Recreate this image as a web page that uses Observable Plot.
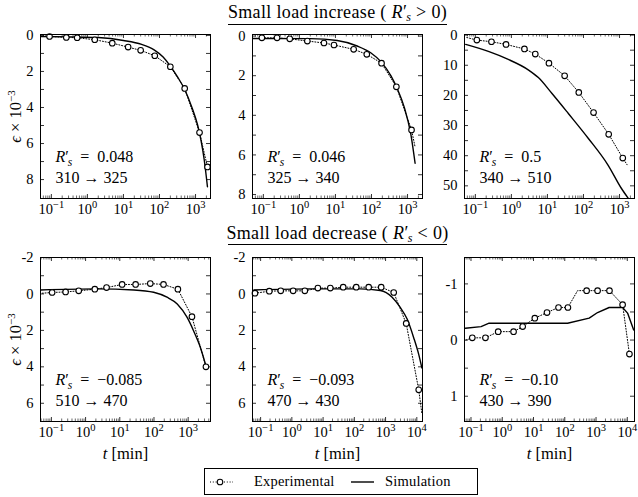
<!DOCTYPE html>
<html><head><meta charset="utf-8">
<script src="https://cdn.jsdelivr.net/npm/d3@7"></script>
<script src="https://cdn.jsdelivr.net/npm/@observablehq/plot@0.6"></script>
<style>
body{margin:0;background:#fff;}
#wrap{position:relative;width:638px;height:497px;font-family:"Liberation Serif","Times New Roman",serif;color:#000;overflow:hidden;}
.pl{position:absolute;}
.title{position:absolute;left:337.5px;transform:translateX(-50%);font-size:18px;line-height:18px;letter-spacing:0.35px;white-space:nowrap;}
.title sub{font-size:12px;font-style:italic;vertical-align:-3px;line-height:0;margin-left:-1px;}
.uline{position:absolute;left:228px;width:219px;border-top:1px solid #000;height:0;}
#legend{position:absolute;left:204px;top:468px;width:272px;height:25px;border:1px solid #000;font-size:14.5px;letter-spacing:0.2px;}
#legend span{position:absolute;top:4px;white-space:nowrap;}
</style></head><body><div id="wrap"></div>
<script>
// ---------- data (t in min, strain eps x 1e-3) ----------
const titles = ["Small load increase", "Small load decrease"];
const annotR = ["0.048", "0.046", "0.5", "\u22120.085", "\u22120.093", "\u22120.10"];
const annotLoad = ["310 \u2192 325", "325 \u2192 340", "340 \u2192 510", "510 \u2192 470", "470 \u2192 430", "430 \u2192 390"];

const xTicksTop = [0.1, 1, 10, 100, 1000];
const xTicksP4 = [0.1, 1, 10, 100, 1000];
const xTicksP56 = [0.1, 1, 10, 100, 1000, 10000];

const p1YLabels = [0, 2, 4, 6, 8];          const p1YTicks = [0,1,2,3,4,5,6,7,8];
const p2YLabels = [0, 2, 4, 6, 8];          const p2YTicks = [0,1,2,3,4,5,6,7,8];
const p3YLabels = [0, 10, 20, 30, 40, 50];  const p3YTicks = [0,5,10,15,20,25,30,35,40,45,50];
const p4YLabels = [-2, 0, 2, 4, 6];         const p4YTicks = [-2,-1,0,1,2,3,4,5,6];
const p5YLabels = [-2, 0, 2, 4, 6];         const p5YTicks = [-2,-1,0,1,2,3,4,5,6];
const p6YLabels = [-1, 0, 1];               const p6YTicks = [-1,-0.5,0,0.5,1];

// Panel 1: 310 -> 325
const p1ExpT = [0.089, 0.26, 0.52, 1.6, 4.9, 13.5, 30, 74, 200, 500, 1290, 2140];
const p1ExpE = [0.06, 0.11, 0.13, 0.24, 0.43, 0.65, 0.83, 1.13, 1.74, 2.94, 5.39, 7.30];
const p1ExpMark = [1,1,1,1,1,1,1,1,1,1,1,1];
const p1SimT = [0.05, 0.32, 2, 10, 32, 71, 126, 200, 316, 500, 794, 1150, 1410, 1740, 2140];
const p1SimE = [0.06, 0.08, 0.12, 0.28, 0.5, 0.8, 1.2, 1.7, 2.3, 3.0, 4.0, 5.0, 5.8, 6.9, 8.4];

// Panel 2: 325 -> 340
const p2ExpT = [0.091, 0.24, 0.54, 1.66, 4.8, 9.1, 32, 74, 190, 490, 1290, 1620];
const p2ExpE = [0.09, 0.09, 0.14, 0.25, 0.35, 0.45, 0.67, 0.92, 1.37, 2.56, 4.74, 5.6];
const p2ExpMark = [1,1,1,1,1,1,1,1,1,1,1,0];
const p2SimT = [0.05, 2.0, 11.2, 40, 95, 182, 347, 525, 813, 1230, 1620];
const p2SimE = [0.12, 0.13, 0.22, 0.50, 0.84, 1.29, 2.01, 2.68, 3.60, 4.94, 6.42];

// Panel 3: 340 -> 510
const p3ExpT = [0.058, 0.11, 0.28, 0.71, 2.3, 4.6, 11, 30, 74, 190, 500, 1230, 1620];
const p3ExpE = [0.8, 1.66, 2.2, 3.1, 4.6, 6.3, 9.3, 13.5, 19.0, 25.7, 32.9, 40.8, 43.0];
const p3ExpMark = [0,1,1,1,1,1,1,1,1,1,1,1,0];
const p3SimT = [0.054, 0.24, 0.76, 3.0, 5.6, 13.2, 38, 135, 479, 1120, 1780];
const p3SimE = [3.1, 5.5, 7.9, 11.6, 14.1, 19.3, 26.0, 34.2, 43.1, 50.8, 54.3];

// Panel 4: 510 -> 470
const p4ExpT = [0.054, 0.105, 0.26, 0.63, 1.86, 4.1, 11.7, 29, 78, 190, 500, 1290, 3310];
const p4ExpE = [-0.04, -0.08, -0.11, -0.17, -0.26, -0.35, -0.52, -0.52, -0.57, -0.52, -0.26, 1.25, 4.0];
const p4ExpMark = [0,1,1,1,1,1,1,1,1,1,1,1,1];
const p4SimT = [0.048, 2.1, 26, 98, 240, 479, 933, 1445, 2290, 3310];
const p4SimE = [-0.22, -0.28, -0.22, -0.09, 0.18, 0.55, 1.29, 2.03, 2.95, 3.95];

// Panel 5: 470 -> 430
const p5ExpT = [0.066, 0.19, 0.44, 1.1, 2.6, 6.8, 17, 44, 115, 288, 724, 1820, 4570, 11500, 14500];
const p5ExpE = [-0.04, -0.15, -0.17, -0.17, -0.17, -0.32, -0.32, -0.37, -0.37, -0.37, -0.37, -0.08, 1.62, 5.26, 6.55];
const p5ExpMark = [1,1,1,1,1,1,1,1,1,1,1,1,1,1,0];
const p5SimT = [0.061, 4.0, 155, 676, 1620, 2950, 4900, 7940, 11500, 14500];
const p5SimE = [-0.22, -0.28, -0.28, -0.19, 0.18, 0.74, 1.38, 2.40, 3.32, 4.06];

// Panel 6: 430 -> 390
const p6ExpT = [0.069, 0.11, 0.29, 0.74, 2.3, 4.5, 11, 27, 63, 126, 257, 500, 1120, 2690, 7080, 11700];
const p6ExpE = [0.0, -0.04, -0.04, -0.15, -0.15, -0.24, -0.39, -0.49, -0.58, -0.58, -0.88, -0.88, -0.88, -0.88, -0.63, 0.25];
const p6ExpMark = [0,1,1,1,1,1,1,1,1,1,0,1,1,1,1,1];
const p6SimT = [0.066, 0.21, 0.38, 123, 603, 1120, 2630, 7080, 10200, 16000];
const p6SimE = [-0.21, -0.24, -0.30, -0.30, -0.39, -0.49, -0.58, -0.58, -0.48, -0.18];

// ---------- drawing ----------
const FONT = '"Liberation Serif","Times New Roman",serif';
const W = 170, H = 164, ML = 40, MR = 4, MT = 4;

function richText(svg) {
  svg.querySelectorAll("text").forEach(t => {
    const s = t.textContent;
    let m;
    if ((m = s.match(/^10\^(-?\d)$/))) {
      t.innerHTML = `10<tspan dy="-6" font-size="10.5">${m[1].replace("-", "\u2212")}</tspan>`;
    } else if ((m = s.match(/^R'_s = (.*)$/))) {
      t.innerHTML = `<tspan font-style="italic">R</tspan>\u2032<tspan font-style="italic" font-size="11.5" dy="4" dx="-1">s</tspan><tspan dy="-4">\u2002=\u2002${m[1]}</tspan>`;
    } else if (s === "EPSLABEL") {
      t.innerHTML = `<tspan font-style="italic">\u03f5</tspan> \u00d7 10<tspan dy="-6" font-size="11">\u22123</tspan>`;
    } else if (s === "TLABEL") {
      t.innerHTML = `<tspan font-style="italic">t</tspan> [min]`;
    }
  });
}

function panel(cfg) {
  const {xDomain, yDomain, xMajors, yTicks, yLabels, expT, expE, expMark, simT, simE, curve, idx, left, top, yLabel, xLabel} = cfg;
  const MB = xLabel ? 46 : 26;
  const exp = expT.map((t, i) => ({t, e: expE[i], m: expMark[i]}));
  const sim = simT.map((t, i) => ({t, e: simE[i]}));
  const minors = [];
  xMajors.concat([xMajors[0] / 10, xMajors[xMajors.length - 1] * 10]).forEach(b => {
    for (let d = 2; d <= 9; d++) { const v = d * b; if (v > xDomain[0] && v < xDomain[1]) minors.push(v); }
  });
  const marks = [
    Plot.tickX(xMajors, {x: d => d, insetTop: H - 4, stroke: "#000", strokeWidth: 0.8}),
    Plot.tickX(xMajors, {x: d => d, insetBottom: H - 4, stroke: "#000", strokeWidth: 0.8}),
    Plot.tickX(minors, {x: d => d, insetTop: H - 2.5, stroke: "#000", strokeWidth: 0.6}),
    Plot.tickX(minors, {x: d => d, insetBottom: H - 2.5, stroke: "#000", strokeWidth: 0.6}),
    Plot.tickY(yTicks, {y: d => d, insetRight: W - 4, stroke: "#000", strokeWidth: 0.8}),
    Plot.tickY(yTicks, {y: d => d, insetLeft: W - 4, stroke: "#000", strokeWidth: 0.8}),
    Plot.axisX({ticks: xMajors, tickSize: 0, tickPadding: 5, fontSize: 14.5, label: null, fill: "#000",
      tickFormat: d => "10^" + Math.round(Math.log10(d))}),
    Plot.axisY({ticks: yLabels, tickSize: 0, tickPadding: 7, fontSize: 14.5, label: null, fill: "#000",
      tickFormat: d => String(d)}),
    Plot.line(exp, {x: "t", y: "e", stroke: "#000", strokeWidth: 1, strokeDasharray: "1,1.8", clip: true}),
    Plot.line(sim, {x: "t", y: "e", stroke: "#000", strokeWidth: 1.4, curve, clip: true}),
    Plot.dot(exp.filter(d => d.m), {x: "t", y: "e", r: 2.8, stroke: "#000", fill: "#fff", strokeWidth: 1.1}),
    Plot.frame({stroke: "#000", strokeWidth: 1}),
    Plot.text(["R'_s = " + annotR[idx]], {frameAnchor: "bottom-left", dx: 15, dy: -37, lineAnchor: "bottom", textAnchor: "start", fontSize: 16, fill: "#000"}),
    Plot.text([annotLoad[idx]], {frameAnchor: "bottom-left", dx: 15, dy: -16, lineAnchor: "bottom", textAnchor: "start", fontSize: 16, fill: "#000"})
  ];
  if (yLabel) marks.push(Plot.text(["EPSLABEL"], {frameAnchor: "left", dx: -25, rotate: -90, textAnchor: "middle", lineAnchor: "middle", fontSize: 16.5, fill: "#000"}));
  if (xLabel) marks.push(Plot.text(["TLABEL"], {frameAnchor: "bottom", dy: 37, textAnchor: "middle", lineAnchor: "bottom", fontSize: 16.5, fill: "#000"}));
  const svg = Plot.plot({
    width: ML + W + MR, height: MT + H + MB,
    marginLeft: ML, marginRight: MR, marginTop: MT, marginBottom: MB,
    x: {type: "log", domain: xDomain},
    y: {domain: yDomain, reverse: true},
    style: {fontFamily: FONT, background: "transparent", color: "#000", overflow: "visible"},
    marks
  });
  richText(svg);
  svg.classList.add("pl");
  svg.style.left = (left - ML) + "px";
  svg.style.top = (top - MT) + "px";
  svg.style.position = "absolute";
  return svg;
}

const wrap = document.getElementById("wrap");
const cols = [40, 252, 464], rows = [34, 257];
const cfgs = [
  {xDomain: [0.05, 2600], yDomain: [-0.05, 9.05], xMajors: xTicksTop, yTicks: p1YTicks, yLabels: p1YLabels, expT: p1ExpT, expE: p1ExpE, expMark: p1ExpMark, simT: p1SimT, simE: p1SimE, curve: "monotone-x", yLabel: true},
  {xDomain: [0.05, 2600], yDomain: [-0.08, 8.2], xMajors: xTicksTop, yTicks: p2YTicks, yLabels: p2YLabels, expT: p2ExpT, expE: p2ExpE, expMark: p2ExpMark, simT: p2SimT, simE: p2SimE, curve: "monotone-x"},
  {xDomain: [0.05, 2600], yDomain: [-0.2, 54.2], xMajors: xTicksTop, yTicks: p3YTicks, yLabels: p3YLabels, expT: p3ExpT, expE: p3ExpE, expMark: p3ExpMark, simT: p3SimT, simE: p3SimE, curve: "monotone-x"},
  {xDomain: [0.048, 4500], yDomain: [-2, 7], xMajors: xTicksP4, yTicks: p4YTicks, yLabels: p4YLabels, expT: p4ExpT, expE: p4ExpE, expMark: p4ExpMark, simT: p4SimT, simE: p4SimE, curve: "monotone-x", yLabel: true, xLabel: true},
  {xDomain: [0.055, 15200], yDomain: [-2, 7], xMajors: xTicksP56, yTicks: p5YTicks, yLabels: p5YLabels, expT: p5ExpT, expE: p5ExpE, expMark: p5ExpMark, simT: p5SimT, simE: p5SimE, curve: "monotone-x", xLabel: true},
  {xDomain: [0.062, 17000], yDomain: [-1.47, 1.45], xMajors: xTicksP56, yTicks: p6YTicks, yLabels: p6YLabels, expT: p6ExpT, expE: p6ExpE, expMark: p6ExpMark, simT: p6SimT, simE: p6SimE, curve: "linear", xLabel: true}
];
cfgs.forEach((c, i) => {
  c.idx = i; c.left = cols[i % 3]; c.top = rows[Math.floor(i / 3)];
  wrap.appendChild(panel(c));
});

// titles
[[titles[0], "&gt;", 2.5, 23.5], [titles[1], "&lt;", 223.5, 244]].forEach(([txt, op, top, ul]) => {
  const d = document.createElement("div");
  d.className = "title";
  d.style.top = top + "px";
  d.innerHTML = `${txt} ( <i>R</i>\u2032<sub>s</sub> ${op} 0)`;
  wrap.appendChild(d);
  const u = document.createElement("div");
  u.className = "uline";
  u.style.top = ul + "px";
  wrap.appendChild(u);
});

// legend
const lg = document.createElement("div");
lg.id = "legend";
lg.innerHTML = `<svg width="272" height="25" style="position:absolute;left:0;top:0">
  <line x1="5" y1="13" x2="28" y2="13" stroke="#000" stroke-width="1" stroke-dasharray="1,1.8"/>
  <circle cx="15" cy="13" r="2.8" fill="#fff" stroke="#000" stroke-width="1.1"/>
  <line x1="146" y1="13" x2="169" y2="13" stroke="#000" stroke-width="1.4"/>
</svg><span style="left:49px">Experimental</span><span style="left:180px">Simulation</span>`;
wrap.appendChild(lg);
</script>
</body></html>
